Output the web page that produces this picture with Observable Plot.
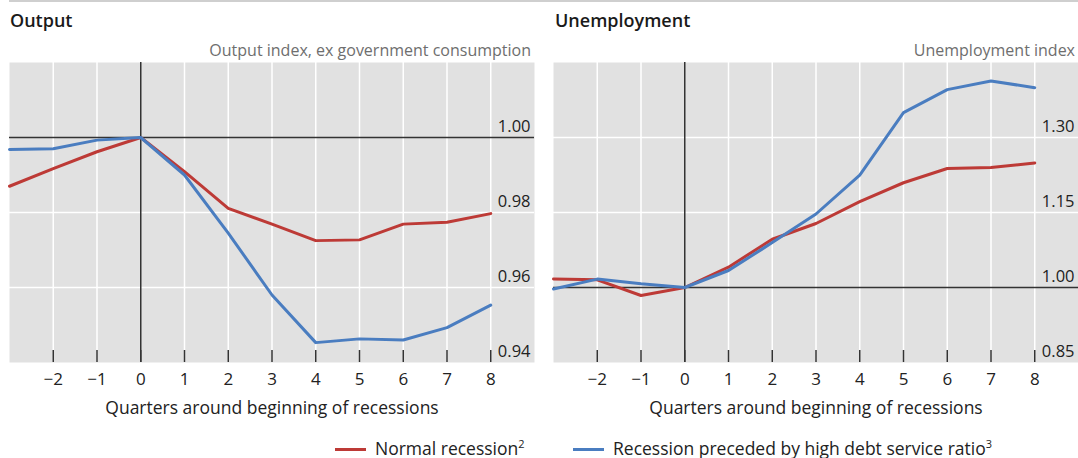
<!DOCTYPE html>
<html>
<head>
<meta charset="utf-8">
<script src="https://cdn.jsdelivr.net/npm/d3@7"></script>
<script src="https://cdn.jsdelivr.net/npm/@observablehq/plot@0.6"></script>
<style>
  html, body { margin: 0; padding: 0; background: #fff; }
  body { width: 1078px; height: 458px; position: relative; overflow: hidden; font-family: "Open Sans", "Noto Sans", sans-serif; color: #222; }
  .rule { position: absolute; left: 9px; top: 0px; width: 1069px; height: 2px; background: #cfcfcf; }
  .title { position: absolute; top: 8px; font-size: 18px; font-weight: 600; color: #1a1a1a; }
  .subtitle { position: absolute; top: 39px; font-size: 16px; color: #6e6e6e; text-align: right; }
  .panel { position: absolute; top: 60px; }
  .legend { position: absolute; top: 436px; left: 0; width: 1078px; font-size: 17.5px; color: #222; }
  .legend .item { position: absolute; top: 0; white-space: nowrap; }
  .legend .sw { display: inline-block; width: 31px; height: 3px; vertical-align: middle; margin-right: 9px; position: relative; top: -1px; }
  .legend sup { font-size: 11px; }
</style>
</head>
<body>
<div class="rule"></div>
<div class="title" style="left:10px">Output</div>
<div class="subtitle" style="left:100px; width:431px">Output index, ex government consumption</div>
<div class="title" style="left:555px">Unemployment</div>
<div class="subtitle" style="left:700px; width:375px">Unemployment index</div>
<div id="left" class="panel" style="left:0px"></div>
<div id="right" class="panel" style="left:540px"></div>
<div class="legend">
  <div class="item" style="left:335px"><span class="sw" style="background:#bd3a36"></span>Normal recession<sup>2</sup></div>
  <div class="item" style="left:573px"><span class="sw" style="background:#4a7dc0"></span>Recession preceded by high debt service ratio<sup>3</sup></div>
</div>
<script>
// ---- data ----
const quarters = [-3, -2, -1, 0, 1, 2, 3, 4, 5, 6, 7, 8];
const outputNormal  = [0.9870, 0.9917, 0.9962, 1.0000, 0.9909, 0.9811, 0.9769, 0.9725, 0.9727, 0.9769, 0.9774, 0.9797];
const outputHighDSR = [0.9968, 0.9970, 0.9993, 1.0000, 0.9900, 0.9745, 0.9580, 0.9453, 0.9463, 0.9460, 0.9493, 0.9553];
const unempNormal   = [1.0168, 1.0154, 0.9840, 1.0000, 1.0407, 1.0965, 1.1280, 1.1716, 1.2095, 1.2380, 1.2400, 1.2490];
const unempHighDSR  = [0.9970, 1.0168, 1.0074, 1.0000, 1.0340, 1.0898, 1.1470, 1.2248, 1.3499, 1.3957, 1.4129, 1.3997];

const xTicks = [-2, -1, 0, 1, 2, 3, 4, 5, 6, 7, 8];
const outputYTicks = [0.94, 0.96, 0.98, 1.00];
const unempYTicks = [0.85, 1.00, 1.15, 1.30];
const xAxisTitle = "Quarters around beginning of recessions";
const seriesNames = ["Normal recession", "Recession preceded by high debt service ratio"];
const seriesColors = ["#bd3a36", "#4a7dc0"];

function panel({normal, high, yTicks, yDomain, width, marginLeft, marginRight}) {
  const rows = [];
  quarters.forEach((q, i) => {
    rows.push({q, v: normal[i], s: seriesNames[0]});
    rows.push({q, v: high[i], s: seriesNames[1]});
  });
  const base = 1.00;
  const gridX = xTicks.filter(d => d !== 0);
  const gridY = yTicks.filter(d => d !== base && d !== yDomain[0]);
  return Plot.plot({
    width, height: 365,
    marginTop: 2, marginBottom: 63, marginLeft, marginRight,
    style: {fontFamily: "'Open Sans', 'Noto Sans', sans-serif", fontSize: "16px", color: "#222", background: "transparent", overflow: "visible"},
    x: {domain: [-3, 9]},
    y: {domain: yDomain, axis: null},
    color: {domain: seriesNames, range: seriesColors},
    marks: [
      Plot.frame({fill: "#e1e1e1", stroke: null}),
      Plot.ruleX(gridX, {stroke: "#fff", strokeWidth: 1.5}),
      Plot.ruleY(gridY, {stroke: "#fff", strokeWidth: 1.5}),
      Plot.ruleX(xTicks, {y1: yDomain[0], y2: yDomain[0], insetBottom: 12, stroke: "#333", strokeWidth: 1.5}),
      Plot.ruleX([0], {stroke: "#333", strokeWidth: 1.5}),
      Plot.ruleY([base], {stroke: "#333", strokeWidth: 1.5}),
      Plot.text(yTicks, {y: d => d, frameAnchor: "right", textAnchor: "end", dx: -4, dy: -11, text: d => d.toFixed(2), fill: "#222", fontSize: 16.5}),
      Plot.line(rows, {x: "q", y: "v", z: "s", stroke: "s", strokeWidth: 3, strokeLinejoin: "round"}),
      Plot.axisX(xTicks, {tickSize: 0, tickPadding: 10, label: null, fontSize: 17}),
      Plot.text([xAxisTitle], {frameAnchor: "bottom", dy: 51, fontSize: 17.5, fill: "#222"})
    ]
  });
}

document.getElementById("left").append(panel({
  normal: outputNormal, high: outputHighDSR, yTicks: outputYTicks, yDomain: [0.94, 1.02],
  width: 540, marginLeft: 9, marginRight: 6
}));
document.getElementById("right").append(panel({
  normal: unempNormal, high: unempHighDSR, yTicks: unempYTicks, yDomain: [0.85, 1.45],
  width: 538, marginLeft: 13, marginRight: 0
}));
</script>
</body>
</html>
